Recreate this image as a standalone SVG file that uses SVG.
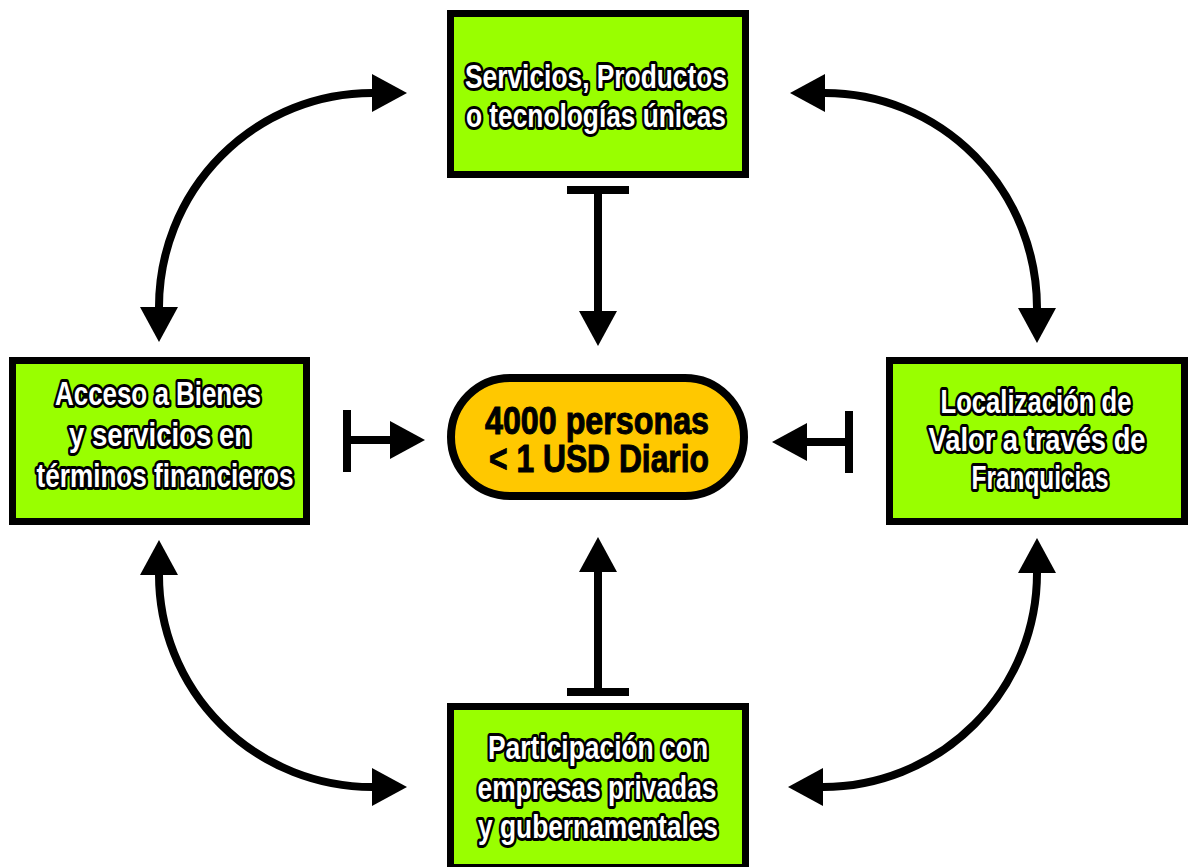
<svg xmlns="http://www.w3.org/2000/svg" width="1189" height="867" viewBox="0 0 1189 867">
<style>
.box{fill:#99FF00;stroke:#000;stroke-width:7}
.pill{fill:#FFC800;stroke:#000;stroke-width:8}
.lbl{font-family:'Liberation Sans Narrow','Liberation Sans',Arial,sans-serif;font-weight:bold;font-size:34px;fill:#fff;stroke:#000;stroke-width:6;stroke-linejoin:round;paint-order:stroke;text-anchor:middle}
.ctr{font-family:'Liberation Sans Narrow','Liberation Sans',Arial,sans-serif;font-weight:bold;font-size:38px;fill:#000;stroke:#000;stroke-width:1;text-anchor:middle}
.ln{fill:none;stroke:#000;stroke-width:8}
.bar{stroke:#000;stroke-width:8}
</style>
<defs>
<marker id="ah" markerUnits="userSpaceOnUse" markerWidth="36" markerHeight="38" refX="0" refY="19" orient="auto-start-reverse" overflow="visible">
<path d="M0,0 L35,19 L0,38 z" fill="#000"/>
</marker>
</defs>
<rect width="1189" height="867" fill="#fff"/>
<g id="connectors">
<path class="ln" d="M159,307 A213,214 0 0 1 372,93" marker-start="url(#ah)" marker-end="url(#ah)"/>
<path class="ln" d="M825,93 A212,215 0 0 1 1037,308" marker-start="url(#ah)" marker-end="url(#ah)"/>
<path class="ln" d="M159,575 A213,212 0 0 0 372,787" marker-start="url(#ah)" marker-end="url(#ah)"/>
<path class="ln" d="M1037,573 A214,214 0 0 1 823,787" marker-start="url(#ah)" marker-end="url(#ah)"/>
<line class="bar" x1="567" y1="190" x2="629" y2="190"/>
<line class="ln" x1="598" y1="190" x2="598" y2="311" marker-end="url(#ah)"/>
<line class="bar" x1="567" y1="692" x2="629" y2="692"/>
<line class="ln" x1="598" y1="692" x2="598" y2="572" marker-end="url(#ah)"/>
<line class="bar" x1="347" y1="410" x2="347" y2="472"/>
<line class="ln" x1="347" y1="440" x2="390" y2="440" marker-end="url(#ah)"/>
<line class="bar" x1="849" y1="411" x2="849" y2="473"/>
<line class="ln" x1="849" y1="442" x2="807" y2="442" marker-end="url(#ah)"/>
</g>
<g id="node-top">
<rect class="box" x="450.5" y="13.5" width="295" height="161"/>
<text class="lbl" x="596" y="88" textLength="262" lengthAdjust="spacingAndGlyphs">Servicios, Productos</text>
<text class="lbl" x="596" y="127" textLength="260" lengthAdjust="spacingAndGlyphs">o tecnologías únicas</text>
</g>
<g id="node-center">
<rect class="pill" x="451" y="378" width="293" height="118" rx="59" ry="59"/>
<text class="ctr" x="597" y="434" textLength="224" lengthAdjust="spacingAndGlyphs">4000 personas</text>
<text class="ctr" x="599" y="472" textLength="220" lengthAdjust="spacingAndGlyphs">&lt; 1 USD Diario</text>
</g>
<g id="node-left">
<rect class="box" x="12.5" y="360.5" width="294" height="161"/>
<text class="lbl" x="158" y="405" textLength="206" lengthAdjust="spacingAndGlyphs">Acceso a Bienes</text>
<text class="lbl" x="160" y="446" textLength="182" lengthAdjust="spacingAndGlyphs">y servicios en</text>
<text class="lbl" x="165" y="487" textLength="257" lengthAdjust="spacingAndGlyphs">términos financieros</text>
</g>
<g id="node-right">
<rect class="box" x="889.5" y="360.5" width="295" height="161"/>
<text class="lbl" x="1036" y="413" textLength="191" lengthAdjust="spacingAndGlyphs">Localización de</text>
<text class="lbl" x="1037" y="451" textLength="217" lengthAdjust="spacingAndGlyphs">Valor a través de</text>
<text class="lbl" x="1040" y="489" textLength="137" lengthAdjust="spacingAndGlyphs">Franquicias</text>
</g>
<g id="node-bottom">
<rect class="box" x="450.5" y="706.5" width="295" height="161"/>
<text class="lbl" x="598" y="759" textLength="220" lengthAdjust="spacingAndGlyphs">Participación con</text>
<text class="lbl" x="597" y="799" textLength="239" lengthAdjust="spacingAndGlyphs">empresas privadas</text>
<text class="lbl" x="598" y="838" textLength="240" lengthAdjust="spacingAndGlyphs">y gubernamentales</text>
</g>
</svg>
